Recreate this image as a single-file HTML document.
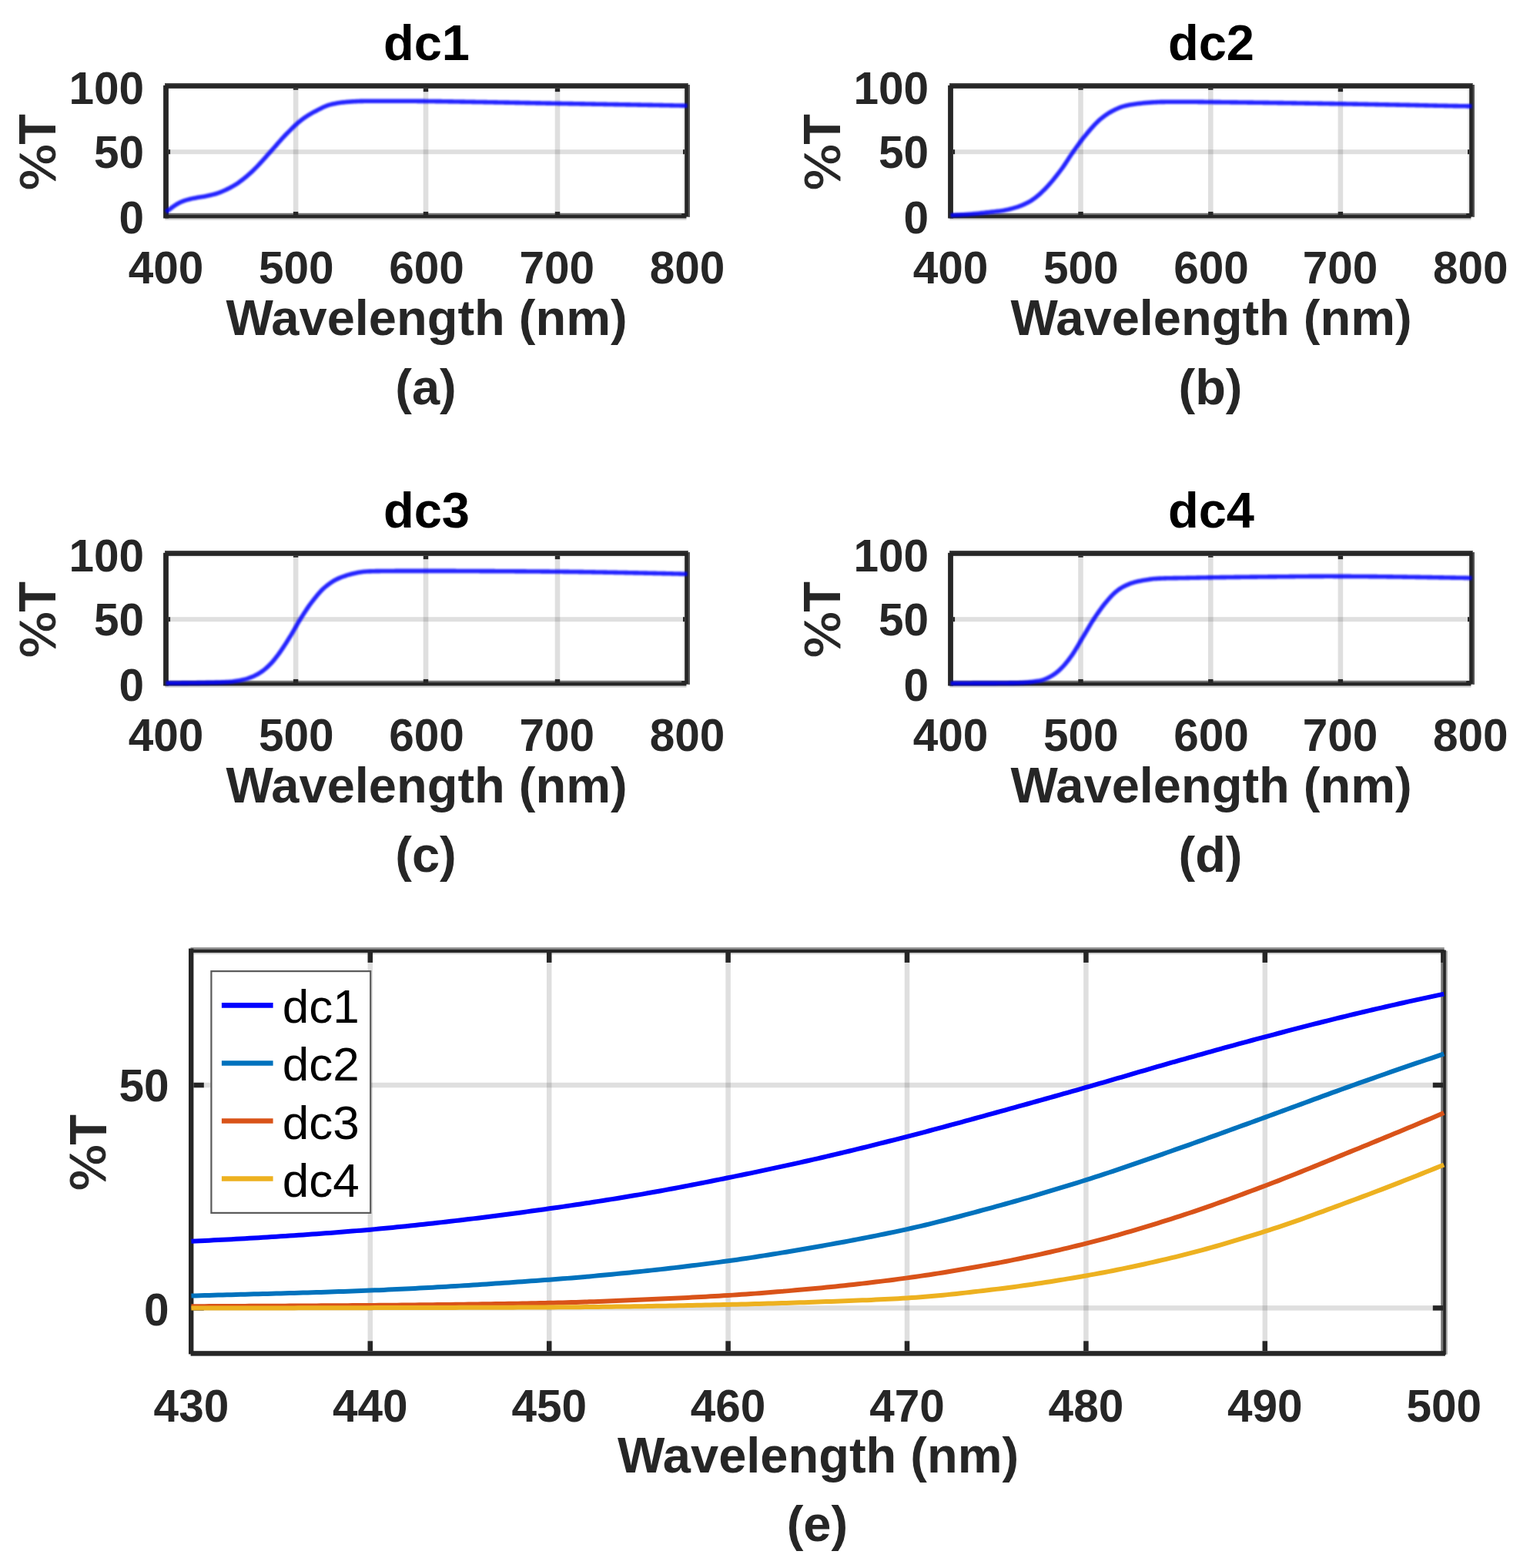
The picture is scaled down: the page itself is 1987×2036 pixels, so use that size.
<!DOCTYPE html>
<html lang="en">
<head>
<meta charset="utf-8">
<title>Transmission spectra</title>
<style>
html,body{margin:0;padding:0;background:#fff;}
body{width:1987px;height:2036px;overflow:hidden;}
svg{display:block;font-family:"Liberation Sans",sans-serif;}
</style>
</head>
<body>
<svg xmlns="http://www.w3.org/2000/svg" width="1987" height="2036" viewBox="0 0 1987 2036">
<defs><filter id="soft" filterUnits="userSpaceOnUse" x="0" y="0" width="1987" height="2036"><feGaussianBlur stdDeviation="0.9"/></filter></defs>
<rect width="1987" height="2036" fill="#fff"/>
<g shape-rendering="auto">
<rect x="380.80" y="114.85" width="6.60" height="162.05" fill="#dfdfdf" />
<rect x="549.70" y="114.85" width="6.60" height="162.05" fill="#dfdfdf" />
<rect x="720.70" y="114.85" width="6.60" height="162.05" fill="#dfdfdf" />
<rect x="218.90" y="194.20" width="670.30" height="6.00" fill="#dfdfdf" style="mix-blend-mode:multiply"/>
<rect x="887.20" y="114.85" width="2.00" height="162.05" fill="#e9e9e9" />
<rect x="218.90" y="114.85" width="670.30" height="2.10" fill="#f5f5f5" />
<rect x="214.30" y="283.50" width="677.15" height="2.30" fill="#d6d6d6" />
<rect x="212.10" y="110.80" width="6.80" height="172.70" fill="#262626" />
<rect x="214.20" y="108.00" width="679.35" height="6.85" fill="#262626" />
<rect x="214.20" y="108.00" width="679.35" height="1.40" fill="#474747" />
<rect x="889.20" y="110.10" width="6.65" height="171.50" fill="#262626" />
<rect x="893.85" y="110.10" width="2.00" height="171.50" fill="#575757" />
<rect x="214.30" y="276.90" width="677.15" height="6.60" fill="#262626" />
<rect x="218.90" y="276.90" width="666.30" height="2.20" fill="#707070" />
<rect x="380.90" y="114.85" width="6.40" height="1.90" fill="#262626" />
<rect x="380.90" y="274.90" width="6.40" height="4.20" fill="#262626" />
<rect x="549.80" y="114.85" width="6.40" height="4.30" fill="#262626" />
<rect x="549.80" y="274.90" width="6.40" height="4.20" fill="#262626" />
<rect x="720.80" y="114.85" width="6.40" height="4.30" fill="#262626" />
<rect x="720.80" y="274.90" width="6.40" height="4.20" fill="#262626" />
<rect x="218.90" y="194.20" width="2.20" height="6.00" fill="#262626" />
<rect x="887.00" y="194.20" width="2.20" height="6.00" fill="#262626" />
<defs><path id="c_dc1" d="M215.50 275.31 L217.19 273.99 L218.88 272.70 L220.58 271.43 L222.27 270.16 L223.96 268.90 L225.66 267.71 L227.35 266.58 L229.04 265.50 L230.73 264.51 L232.43 263.59 L234.12 262.74 L235.81 261.97 L237.50 261.30 L239.19 260.68 L240.89 260.12 L242.58 259.60 L244.27 259.12 L245.97 258.67 L247.66 258.26 L249.35 257.88 L251.04 257.53 L252.74 257.20 L254.43 256.88 L256.12 256.57 L257.81 256.28 L259.50 256.01 L261.20 255.74 L262.89 255.47 L264.58 255.19 L266.27 254.89 L267.97 254.56 L269.66 254.20 L271.35 253.83 L273.05 253.44 L274.74 253.03 L276.43 252.61 L278.12 252.17 L279.81 251.71 L281.51 251.21 L283.20 250.67 L284.89 250.07 L286.58 249.43 L288.28 248.73 L289.97 248.00 L291.66 247.23 L293.36 246.45 L295.05 245.64 L296.74 244.84 L298.43 243.98 L300.12 243.07 L301.82 242.13 L303.51 241.17 L305.20 240.16 L306.89 239.11 L308.59 238.01 L310.28 236.84 L311.97 235.59 L313.66 234.29 L315.36 232.95 L317.05 231.60 L318.74 230.23 L320.44 228.83 L322.13 227.40 L323.82 225.93 L325.51 224.43 L327.20 222.88 L328.90 221.28 L330.59 219.62 L332.28 217.90 L333.98 216.14 L335.67 214.35 L337.36 212.52 L339.05 210.67 L340.75 208.80 L342.44 206.91 L344.13 205.02 L345.82 203.12 L347.51 201.22 L349.21 199.33 L350.90 197.45 L352.59 195.58 L354.28 193.67 L355.98 191.74 L357.67 189.80 L359.36 187.85 L361.06 185.91 L362.75 183.97 L364.44 182.06 L366.13 180.18 L367.83 178.34 L369.52 176.54 L371.21 174.79 L372.90 173.07 L374.60 171.35 L376.29 169.64 L377.98 167.95 L379.67 166.28 L381.37 164.64 L383.06 163.03 L384.75 161.46 L386.44 159.94 L388.13 158.48 L389.83 157.08 L391.52 155.74 L393.21 154.48 L394.90 153.27 L396.60 152.10 L398.29 150.97 L399.98 149.88 L401.68 148.84 L403.37 147.83 L405.06 146.86 L406.75 145.92 L408.44 145.02 L410.14 144.14 L411.83 143.25 L413.52 142.36 L415.22 141.48 L416.91 140.63 L418.60 139.80 L420.29 139.01 L421.99 138.26 L423.68 137.57 L425.37 136.93 L427.06 136.36 L428.75 135.87 L430.45 135.47 L432.14 135.10 L433.83 134.75 L435.52 134.42 L437.22 134.11 L438.91 133.82 L440.60 133.56 L442.30 133.31 L443.99 133.09 L445.68 132.88 L447.37 132.70 L449.06 132.54 L450.76 132.40 L452.45 132.26 L454.14 132.13 L455.83 132.01 L457.53 131.89 L459.22 131.78 L460.91 131.68 L462.61 131.59 L464.30 131.51 L465.99 131.45 L467.68 131.40 L469.38 131.36 L471.07 131.33 L472.76 131.31 L474.45 131.28 L476.14 131.26 L477.84 131.24 L479.53 131.23 L481.22 131.21 L482.92 131.20 L484.61 131.20 L486.30 131.19 L487.99 131.19 L489.69 131.19 L491.38 131.19 L493.07 131.19 L494.76 131.19 L496.45 131.19 L498.15 131.19 L499.84 131.19 L501.53 131.19 L503.22 131.19 L504.92 131.19 L506.61 131.19 L508.30 131.19 L510.00 131.19 L511.69 131.19 L513.38 131.19 L515.07 131.19 L516.76 131.19 L518.46 131.19 L520.15 131.19 L521.84 131.19 L523.54 131.20 L525.23 131.20 L526.92 131.21 L528.61 131.22 L530.31 131.23 L532.00 131.24 L533.69 131.25 L535.38 131.26 L537.08 131.28 L538.77 131.29 L540.46 131.31 L542.15 131.33 L543.85 131.34 L545.54 131.36 L547.23 131.38 L548.92 131.40 L550.62 131.41 L552.31 131.43 L554.00 131.45 L555.69 131.46 L557.38 131.48 L559.08 131.50 L560.77 131.52 L562.46 131.54 L564.15 131.56 L565.85 131.58 L567.54 131.60 L569.23 131.63 L570.92 131.65 L572.62 131.67 L574.31 131.70 L576.00 131.72 L577.69 131.75 L579.39 131.78 L581.08 131.80 L582.77 131.83 L584.47 131.86 L586.16 131.88 L587.85 131.91 L589.54 131.94 L591.24 131.97 L592.93 132.00 L594.62 132.03 L596.31 132.05 L598.00 132.08 L599.70 132.11 L601.39 132.14 L603.08 132.17 L604.77 132.20 L606.47 132.23 L608.16 132.26 L609.85 132.29 L611.54 132.32 L613.24 132.35 L614.93 132.37 L616.62 132.40 L618.32 132.43 L620.01 132.46 L621.70 132.49 L623.39 132.52 L625.09 132.54 L626.78 132.57 L628.47 132.60 L630.16 132.63 L631.86 132.66 L633.55 132.69 L635.24 132.72 L636.93 132.75 L638.62 132.78 L640.32 132.81 L642.01 132.84 L643.70 132.87 L645.39 132.90 L647.09 132.93 L648.78 132.96 L650.47 132.99 L652.16 133.02 L653.86 133.05 L655.55 133.08 L657.24 133.11 L658.93 133.14 L660.63 133.17 L662.32 133.20 L664.01 133.23 L665.71 133.27 L667.40 133.30 L669.09 133.33 L670.78 133.36 L672.48 133.39 L674.17 133.42 L675.86 133.45 L677.55 133.48 L679.25 133.52 L680.94 133.55 L682.63 133.58 L684.32 133.61 L686.01 133.64 L687.71 133.67 L689.40 133.70 L691.09 133.74 L692.78 133.77 L694.48 133.80 L696.17 133.83 L697.86 133.86 L699.56 133.89 L701.25 133.92 L702.94 133.95 L704.63 133.98 L706.33 134.01 L708.02 134.04 L709.71 134.08 L711.40 134.11 L713.10 134.14 L714.79 134.17 L716.48 134.20 L718.17 134.23 L719.87 134.26 L721.56 134.29 L723.25 134.32 L724.94 134.35 L726.63 134.37 L728.33 134.40 L730.02 134.43 L731.71 134.46 L733.40 134.49 L735.10 134.52 L736.79 134.55 L738.48 134.58 L740.18 134.61 L741.87 134.64 L743.56 134.66 L745.25 134.69 L746.95 134.72 L748.64 134.75 L750.33 134.78 L752.02 134.81 L753.72 134.84 L755.41 134.86 L757.10 134.89 L758.79 134.92 L760.49 134.95 L762.18 134.98 L763.87 135.01 L765.56 135.03 L767.25 135.06 L768.95 135.09 L770.64 135.12 L772.33 135.15 L774.02 135.18 L775.72 135.20 L777.41 135.23 L779.10 135.26 L780.79 135.29 L782.49 135.32 L784.18 135.35 L785.87 135.38 L787.56 135.40 L789.26 135.43 L790.95 135.46 L792.64 135.49 L794.34 135.52 L796.03 135.55 L797.72 135.58 L799.41 135.60 L801.11 135.63 L802.80 135.66 L804.49 135.69 L806.18 135.72 L807.88 135.75 L809.57 135.78 L811.26 135.81 L812.95 135.84 L814.64 135.87 L816.34 135.90 L818.03 135.92 L819.72 135.95 L821.41 135.98 L823.11 136.01 L824.80 136.04 L826.49 136.07 L828.19 136.10 L829.88 136.13 L831.57 136.16 L833.26 136.19 L834.96 136.22 L836.65 136.25 L838.34 136.27 L840.03 136.30 L841.73 136.33 L843.42 136.36 L845.11 136.39 L846.80 136.42 L848.50 136.45 L850.19 136.48 L851.88 136.51 L853.57 136.54 L855.26 136.57 L856.96 136.60 L858.65 136.63 L860.34 136.66 L862.03 136.69 L863.73 136.72 L865.42 136.75 L867.11 136.78 L868.80 136.82 L870.50 136.85 L872.19 136.88 L873.88 136.91 L875.57 136.94 L877.27 136.97 L878.96 137.01 L880.65 137.04 L882.35 137.07 L884.04 137.10 L885.73 137.14 L887.42 137.17 L889.12 137.20 L890.81 137.24 L892.50 137.27"/></defs>
<use href="#c_dc1" fill="none" stroke="#0000ff" stroke-opacity="0.86" stroke-linejoin="round" stroke-linecap="butt" stroke-width="5.6" filter="url(#soft)"/>
</g>
<text x="554.00" y="78.00" font-size="65" font-weight="bold" text-anchor="middle" fill="#000" >dc1</text>
<text x="187.00" y="134.60" font-size="58.5" font-weight="bold" text-anchor="end" fill="#262626" >100</text>
<text x="187.00" y="218.20" font-size="58.5" font-weight="bold" text-anchor="end" fill="#262626" >50</text>
<text x="187.00" y="303.10" font-size="58.5" font-weight="bold" text-anchor="end" fill="#262626" >0</text>
<text x="215.50" y="368.30" font-size="58.5" font-weight="bold" text-anchor="middle" fill="#262626" >400</text>
<text x="384.75" y="368.30" font-size="58.5" font-weight="bold" text-anchor="middle" fill="#262626" >500</text>
<text x="554.00" y="368.30" font-size="58.5" font-weight="bold" text-anchor="middle" fill="#262626" >600</text>
<text x="723.25" y="368.30" font-size="58.5" font-weight="bold" text-anchor="middle" fill="#262626" >700</text>
<text x="892.50" y="368.30" font-size="58.5" font-weight="bold" text-anchor="middle" fill="#262626" >800</text>
<text x="554.00" y="435.00" font-size="65" font-weight="bold" text-anchor="middle" fill="#262626" >Wavelength (nm)</text>
<text x="553.00" y="524.50" font-size="65" font-weight="bold" text-anchor="middle" fill="#262626" >(a)</text>
<g transform="translate(72.30 197.00) rotate(-90)" fill="#262626"><text x="0" y="0" font-family="'DejaVu Sans', 'Liberation Sans', sans-serif" font-size="60" font-weight="normal" text-anchor="start" stroke="#262626" stroke-width="0.9" stroke-linejoin="round" transform="translate(-51.6 -1.4) scale(1.1 1)">%</text><text x="0" y="0" font-size="65" font-weight="bold" text-anchor="start" transform="translate(9.2 0) scale(1 1.065)">T</text></g>
<g shape-rendering="auto">
<rect x="1400.20" y="114.85" width="6.60" height="162.05" fill="#dfdfdf" />
<rect x="1569.00" y="114.85" width="6.60" height="162.05" fill="#dfdfdf" />
<rect x="1737.60" y="114.85" width="6.60" height="162.05" fill="#dfdfdf" />
<rect x="1237.90" y="194.20" width="670.30" height="6.00" fill="#dfdfdf" style="mix-blend-mode:multiply"/>
<rect x="1906.20" y="114.85" width="2.00" height="162.05" fill="#e9e9e9" />
<rect x="1237.90" y="114.85" width="670.30" height="2.10" fill="#f5f5f5" />
<rect x="1233.30" y="283.50" width="677.15" height="2.30" fill="#d6d6d6" />
<rect x="1231.10" y="110.80" width="6.80" height="172.70" fill="#262626" />
<rect x="1233.20" y="108.00" width="679.35" height="6.85" fill="#262626" />
<rect x="1233.20" y="108.00" width="679.35" height="1.40" fill="#474747" />
<rect x="1908.20" y="110.10" width="6.65" height="171.50" fill="#262626" />
<rect x="1912.85" y="110.10" width="2.00" height="171.50" fill="#575757" />
<rect x="1233.30" y="276.90" width="677.15" height="6.60" fill="#262626" />
<rect x="1237.90" y="276.90" width="666.30" height="2.20" fill="#707070" />
<rect x="1400.30" y="114.85" width="6.40" height="1.90" fill="#262626" />
<rect x="1400.30" y="274.90" width="6.40" height="4.20" fill="#262626" />
<rect x="1569.10" y="114.85" width="6.40" height="1.90" fill="#262626" />
<rect x="1569.10" y="274.90" width="6.40" height="4.20" fill="#262626" />
<rect x="1737.70" y="114.85" width="6.40" height="4.30" fill="#262626" />
<rect x="1737.70" y="274.90" width="6.40" height="4.20" fill="#262626" />
<rect x="1237.90" y="194.20" width="2.20" height="6.00" fill="#262626" />
<rect x="1906.00" y="194.20" width="2.20" height="6.00" fill="#262626" />
<defs><path id="c_dc2" d="M1234.50 279.52 L1236.19 279.46 L1237.88 279.39 L1239.58 279.32 L1241.27 279.24 L1242.96 279.16 L1244.65 279.07 L1246.35 278.98 L1248.04 278.88 L1249.73 278.78 L1251.42 278.68 L1253.12 278.57 L1254.81 278.46 L1256.50 278.34 L1258.19 278.21 L1259.89 278.07 L1261.58 277.93 L1263.27 277.79 L1264.96 277.64 L1266.66 277.49 L1268.35 277.33 L1270.04 277.17 L1271.73 277.00 L1273.43 276.82 L1275.12 276.64 L1276.81 276.45 L1278.51 276.26 L1280.20 276.06 L1281.89 275.87 L1283.58 275.67 L1285.28 275.47 L1286.97 275.29 L1288.66 275.10 L1290.35 274.92 L1292.05 274.74 L1293.74 274.56 L1295.43 274.37 L1297.12 274.16 L1298.82 273.94 L1300.51 273.71 L1302.20 273.45 L1303.89 273.16 L1305.59 272.84 L1307.28 272.49 L1308.97 272.11 L1310.66 271.71 L1312.36 271.28 L1314.05 270.84 L1315.74 270.37 L1317.43 269.89 L1319.12 269.40 L1320.82 268.88 L1322.51 268.31 L1324.20 267.69 L1325.89 267.04 L1327.59 266.36 L1329.28 265.65 L1330.97 264.89 L1332.66 264.08 L1334.36 263.22 L1336.05 262.31 L1337.74 261.34 L1339.43 260.29 L1341.13 259.17 L1342.82 257.99 L1344.51 256.74 L1346.20 255.43 L1347.90 254.04 L1349.59 252.58 L1351.28 251.05 L1352.97 249.47 L1354.67 247.83 L1356.36 246.15 L1358.05 244.43 L1359.74 242.65 L1361.44 240.81 L1363.13 238.92 L1364.82 236.97 L1366.52 234.98 L1368.21 232.94 L1369.90 230.85 L1371.59 228.73 L1373.29 226.58 L1374.98 224.38 L1376.67 222.16 L1378.36 219.92 L1380.06 217.59 L1381.75 215.15 L1383.44 212.63 L1385.13 210.05 L1386.83 207.45 L1388.52 204.84 L1390.21 202.26 L1391.90 199.74 L1393.60 197.29 L1395.29 194.91 L1396.98 192.54 L1398.67 190.17 L1400.37 187.83 L1402.06 185.52 L1403.75 183.25 L1405.44 181.02 L1407.13 178.84 L1408.83 176.73 L1410.52 174.68 L1412.21 172.65 L1413.90 170.64 L1415.60 168.65 L1417.29 166.70 L1418.98 164.78 L1420.67 162.92 L1422.37 161.11 L1424.06 159.38 L1425.75 157.73 L1427.44 156.18 L1429.14 154.72 L1430.83 153.33 L1432.52 152.00 L1434.21 150.72 L1435.91 149.50 L1437.60 148.33 L1439.29 147.23 L1440.98 146.20 L1442.68 145.23 L1444.37 144.31 L1446.06 143.42 L1447.76 142.56 L1449.45 141.72 L1451.14 140.94 L1452.83 140.19 L1454.53 139.51 L1456.22 138.89 L1457.91 138.34 L1459.60 137.86 L1461.30 137.44 L1462.99 137.04 L1464.68 136.67 L1466.37 136.34 L1468.07 136.02 L1469.76 135.74 L1471.45 135.47 L1473.14 135.22 L1474.84 134.98 L1476.53 134.76 L1478.22 134.55 L1479.91 134.35 L1481.61 134.16 L1483.30 133.98 L1484.99 133.81 L1486.68 133.66 L1488.38 133.52 L1490.07 133.40 L1491.76 133.27 L1493.45 133.14 L1495.14 133.02 L1496.84 132.90 L1498.53 132.79 L1500.22 132.68 L1501.91 132.59 L1503.61 132.51 L1505.30 132.45 L1506.99 132.40 L1508.68 132.38 L1510.38 132.36 L1512.07 132.34 L1513.76 132.32 L1515.45 132.31 L1517.15 132.30 L1518.84 132.28 L1520.53 132.27 L1522.22 132.26 L1523.92 132.25 L1525.61 132.24 L1527.30 132.23 L1528.99 132.23 L1530.69 132.22 L1532.38 132.22 L1534.07 132.21 L1535.76 132.21 L1537.46 132.21 L1539.15 132.21 L1540.84 132.21 L1542.54 132.21 L1544.23 132.22 L1545.92 132.23 L1547.61 132.24 L1549.31 132.26 L1551.00 132.27 L1552.69 132.29 L1554.38 132.31 L1556.08 132.33 L1557.77 132.35 L1559.46 132.37 L1561.15 132.39 L1562.85 132.42 L1564.54 132.44 L1566.23 132.46 L1567.92 132.48 L1569.62 132.50 L1571.31 132.52 L1573.00 132.54 L1574.69 132.56 L1576.38 132.58 L1578.08 132.60 L1579.77 132.62 L1581.46 132.64 L1583.15 132.65 L1584.85 132.67 L1586.54 132.69 L1588.23 132.71 L1589.92 132.73 L1591.62 132.75 L1593.31 132.77 L1595.00 132.79 L1596.69 132.81 L1598.39 132.83 L1600.08 132.84 L1601.77 132.86 L1603.47 132.88 L1605.16 132.90 L1606.85 132.92 L1608.54 132.94 L1610.24 132.96 L1611.93 132.98 L1613.62 133.00 L1615.31 133.02 L1617.00 133.04 L1618.70 133.06 L1620.39 133.08 L1622.08 133.10 L1623.78 133.13 L1625.47 133.15 L1627.16 133.17 L1628.85 133.19 L1630.55 133.21 L1632.24 133.23 L1633.93 133.25 L1635.62 133.27 L1637.32 133.29 L1639.01 133.31 L1640.70 133.34 L1642.39 133.36 L1644.09 133.38 L1645.78 133.40 L1647.47 133.42 L1649.16 133.44 L1650.86 133.47 L1652.55 133.49 L1654.24 133.51 L1655.93 133.53 L1657.62 133.56 L1659.32 133.58 L1661.01 133.60 L1662.70 133.62 L1664.39 133.65 L1666.09 133.67 L1667.78 133.69 L1669.47 133.72 L1671.16 133.74 L1672.86 133.76 L1674.55 133.79 L1676.24 133.81 L1677.93 133.84 L1679.63 133.86 L1681.32 133.88 L1683.01 133.91 L1684.70 133.93 L1686.40 133.96 L1688.09 133.98 L1689.78 134.01 L1691.47 134.03 L1693.17 134.06 L1694.86 134.08 L1696.55 134.11 L1698.25 134.13 L1699.94 134.16 L1701.63 134.18 L1703.32 134.21 L1705.01 134.23 L1706.71 134.26 L1708.40 134.29 L1710.09 134.31 L1711.78 134.34 L1713.48 134.36 L1715.17 134.39 L1716.86 134.42 L1718.56 134.44 L1720.25 134.47 L1721.94 134.50 L1723.63 134.52 L1725.33 134.55 L1727.02 134.58 L1728.71 134.60 L1730.40 134.63 L1732.10 134.66 L1733.79 134.68 L1735.48 134.71 L1737.17 134.74 L1738.87 134.77 L1740.56 134.79 L1742.25 134.82 L1743.94 134.85 L1745.63 134.88 L1747.33 134.91 L1749.02 134.93 L1750.71 134.96 L1752.40 134.99 L1754.10 135.02 L1755.79 135.05 L1757.48 135.08 L1759.18 135.10 L1760.87 135.13 L1762.56 135.16 L1764.25 135.19 L1765.95 135.22 L1767.64 135.25 L1769.33 135.28 L1771.02 135.31 L1772.72 135.34 L1774.41 135.37 L1776.10 135.40 L1777.79 135.43 L1779.49 135.46 L1781.18 135.49 L1782.87 135.52 L1784.56 135.55 L1786.26 135.58 L1787.95 135.61 L1789.64 135.64 L1791.33 135.68 L1793.03 135.71 L1794.72 135.74 L1796.41 135.77 L1798.10 135.80 L1799.80 135.83 L1801.49 135.86 L1803.18 135.89 L1804.87 135.93 L1806.57 135.96 L1808.26 135.99 L1809.95 136.02 L1811.64 136.05 L1813.34 136.08 L1815.03 136.12 L1816.72 136.15 L1818.41 136.18 L1820.11 136.21 L1821.80 136.24 L1823.49 136.28 L1825.18 136.31 L1826.88 136.34 L1828.57 136.37 L1830.26 136.41 L1831.95 136.44 L1833.64 136.47 L1835.34 136.51 L1837.03 136.54 L1838.72 136.58 L1840.41 136.61 L1842.11 136.65 L1843.80 136.68 L1845.49 136.72 L1847.18 136.75 L1848.88 136.79 L1850.57 136.83 L1852.26 136.86 L1853.95 136.90 L1855.65 136.93 L1857.34 136.97 L1859.03 137.01 L1860.72 137.04 L1862.42 137.08 L1864.11 137.11 L1865.80 137.15 L1867.49 137.18 L1869.19 137.22 L1870.88 137.25 L1872.57 137.29 L1874.26 137.32 L1875.96 137.36 L1877.65 137.39 L1879.34 137.42 L1881.03 137.45 L1882.73 137.49 L1884.42 137.52 L1886.11 137.55 L1887.80 137.58 L1889.50 137.61 L1891.19 137.63 L1892.88 137.66 L1894.57 137.69 L1896.27 137.72 L1897.96 137.74 L1899.65 137.77 L1901.35 137.80 L1903.04 137.82 L1904.73 137.85 L1906.42 137.87 L1908.12 137.90 L1909.81 137.92 L1911.50 137.94"/></defs>
<use href="#c_dc2" fill="none" stroke="#0000ff" stroke-opacity="0.86" stroke-linejoin="round" stroke-linecap="butt" stroke-width="5.6" filter="url(#soft)"/>
</g>
<text x="1573.00" y="78.00" font-size="65" font-weight="bold" text-anchor="middle" fill="#000" >dc2</text>
<text x="1206.00" y="134.60" font-size="58.5" font-weight="bold" text-anchor="end" fill="#262626" >100</text>
<text x="1206.00" y="218.20" font-size="58.5" font-weight="bold" text-anchor="end" fill="#262626" >50</text>
<text x="1206.00" y="303.10" font-size="58.5" font-weight="bold" text-anchor="end" fill="#262626" >0</text>
<text x="1234.50" y="368.30" font-size="58.5" font-weight="bold" text-anchor="middle" fill="#262626" >400</text>
<text x="1403.75" y="368.30" font-size="58.5" font-weight="bold" text-anchor="middle" fill="#262626" >500</text>
<text x="1573.00" y="368.30" font-size="58.5" font-weight="bold" text-anchor="middle" fill="#262626" >600</text>
<text x="1740.45" y="368.30" font-size="58.5" font-weight="bold" text-anchor="middle" fill="#262626" >700</text>
<text x="1909.70" y="368.30" font-size="58.5" font-weight="bold" text-anchor="middle" fill="#262626" >800</text>
<text x="1573.00" y="435.00" font-size="65" font-weight="bold" text-anchor="middle" fill="#262626" >Wavelength (nm)</text>
<text x="1572.00" y="524.50" font-size="65" font-weight="bold" text-anchor="middle" fill="#262626" >(b)</text>
<g transform="translate(1091.30 197.00) rotate(-90)" fill="#262626"><text x="0" y="0" font-family="'DejaVu Sans', 'Liberation Sans', sans-serif" font-size="60" font-weight="normal" text-anchor="start" stroke="#262626" stroke-width="0.9" stroke-linejoin="round" transform="translate(-51.6 -1.4) scale(1.1 1)">%</text><text x="0" y="0" font-size="65" font-weight="bold" text-anchor="start" transform="translate(9.2 0) scale(1 1.065)">T</text></g>
<g shape-rendering="auto">
<rect x="380.80" y="721.85" width="6.60" height="162.05" fill="#dfdfdf" />
<rect x="549.70" y="721.85" width="6.60" height="162.05" fill="#dfdfdf" />
<rect x="720.70" y="721.85" width="6.60" height="162.05" fill="#dfdfdf" />
<rect x="218.90" y="801.20" width="670.30" height="6.00" fill="#dfdfdf" style="mix-blend-mode:multiply"/>
<rect x="887.20" y="721.85" width="2.00" height="162.05" fill="#e9e9e9" />
<rect x="218.90" y="721.85" width="670.30" height="2.10" fill="#f5f5f5" />
<rect x="214.30" y="890.50" width="677.15" height="2.30" fill="#d6d6d6" />
<rect x="212.10" y="717.80" width="6.80" height="172.70" fill="#262626" />
<rect x="214.20" y="715.00" width="679.35" height="6.85" fill="#262626" />
<rect x="214.20" y="715.00" width="679.35" height="1.40" fill="#474747" />
<rect x="889.20" y="717.10" width="6.65" height="171.50" fill="#262626" />
<rect x="893.85" y="717.10" width="2.00" height="171.50" fill="#575757" />
<rect x="214.30" y="883.90" width="677.15" height="6.60" fill="#262626" />
<rect x="218.90" y="883.90" width="666.30" height="2.20" fill="#707070" />
<rect x="380.90" y="721.85" width="6.40" height="1.90" fill="#262626" />
<rect x="380.90" y="881.90" width="6.40" height="4.20" fill="#262626" />
<rect x="549.80" y="721.85" width="6.40" height="4.30" fill="#262626" />
<rect x="549.80" y="881.90" width="6.40" height="4.20" fill="#262626" />
<rect x="720.80" y="721.85" width="6.40" height="4.30" fill="#262626" />
<rect x="720.80" y="881.90" width="6.40" height="4.20" fill="#262626" />
<rect x="218.90" y="801.20" width="2.20" height="6.00" fill="#262626" />
<rect x="887.00" y="801.20" width="2.20" height="6.00" fill="#262626" />
<defs><path id="c_dc3" d="M215.50 887.03 L217.19 887.03 L218.88 887.03 L220.58 887.02 L222.27 887.02 L223.96 887.01 L225.66 887.00 L227.35 886.99 L229.04 886.98 L230.73 886.97 L232.43 886.95 L234.12 886.94 L235.81 886.92 L237.50 886.91 L239.19 886.89 L240.89 886.87 L242.58 886.85 L244.27 886.84 L245.97 886.82 L247.66 886.80 L249.35 886.78 L251.04 886.76 L252.74 886.73 L254.43 886.70 L256.12 886.67 L257.81 886.63 L259.50 886.59 L261.20 886.55 L262.89 886.51 L264.58 886.48 L266.27 886.44 L267.97 886.41 L269.66 886.37 L271.35 886.34 L273.05 886.31 L274.74 886.28 L276.43 886.24 L278.12 886.20 L279.81 886.16 L281.51 886.12 L283.20 886.07 L284.89 886.01 L286.58 885.95 L288.28 885.89 L289.97 885.81 L291.66 885.73 L293.36 885.64 L295.05 885.54 L296.74 885.43 L298.43 885.31 L300.12 885.18 L301.82 885.01 L303.51 884.79 L305.20 884.54 L306.89 884.27 L308.59 883.99 L310.28 883.71 L311.97 883.40 L313.66 883.07 L315.36 882.70 L317.05 882.31 L318.74 881.86 L320.44 881.36 L322.13 880.82 L323.82 880.23 L325.51 879.61 L327.20 878.94 L328.90 878.22 L330.59 877.44 L332.28 876.61 L333.98 875.73 L335.67 874.77 L337.36 873.72 L339.05 872.60 L340.75 871.41 L342.44 870.16 L344.13 868.82 L345.82 867.39 L347.51 865.86 L349.21 864.25 L350.90 862.56 L352.59 860.77 L354.28 858.86 L355.98 856.84 L357.67 854.74 L359.36 852.57 L361.06 850.34 L362.75 848.01 L364.44 845.61 L366.13 843.14 L367.83 840.61 L369.52 838.02 L371.21 835.40 L372.90 832.74 L374.60 830.06 L376.29 827.36 L377.98 824.61 L379.67 821.74 L381.37 818.81 L383.06 815.84 L384.75 812.86 L386.44 809.92 L388.13 807.04 L389.83 804.28 L391.52 801.59 L393.21 798.92 L394.90 796.28 L396.60 793.68 L398.29 791.13 L399.98 788.64 L401.68 786.23 L403.37 783.90 L405.06 781.67 L406.75 779.48 L408.44 777.31 L410.14 775.18 L411.83 773.10 L413.52 771.08 L415.22 769.15 L416.91 767.31 L418.60 765.58 L420.29 763.97 L421.99 762.50 L423.68 761.10 L425.37 759.75 L427.06 758.47 L428.75 757.24 L430.45 756.08 L432.14 754.99 L433.83 753.97 L435.52 753.03 L437.22 752.16 L438.91 751.37 L440.60 750.62 L442.30 749.92 L443.99 749.26 L445.68 748.63 L447.37 748.05 L449.06 747.49 L450.76 746.95 L452.45 746.44 L454.14 745.96 L455.83 745.50 L457.53 745.07 L459.22 744.67 L460.91 744.29 L462.61 743.93 L464.30 743.56 L465.99 743.21 L467.68 742.91 L469.38 742.66 L471.07 742.48 L472.76 742.32 L474.45 742.19 L476.14 742.07 L477.84 741.98 L479.53 741.91 L481.22 741.85 L482.92 741.80 L484.61 741.75 L486.30 741.71 L487.99 741.67 L489.69 741.64 L491.38 741.61 L493.07 741.59 L494.76 741.57 L496.45 741.55 L498.15 741.53 L499.84 741.52 L501.53 741.50 L503.22 741.49 L504.92 741.48 L506.61 741.46 L508.30 741.45 L510.00 741.44 L511.69 741.43 L513.38 741.42 L515.07 741.42 L516.76 741.41 L518.46 741.40 L520.15 741.40 L521.84 741.40 L523.54 741.39 L525.23 741.39 L526.92 741.39 L528.61 741.38 L530.31 741.38 L532.00 741.38 L533.69 741.37 L535.38 741.37 L537.08 741.37 L538.77 741.37 L540.46 741.36 L542.15 741.36 L543.85 741.36 L545.54 741.36 L547.23 741.36 L548.92 741.35 L550.62 741.35 L552.31 741.35 L554.00 741.35 L555.69 741.35 L557.38 741.35 L559.08 741.35 L560.77 741.35 L562.46 741.35 L564.15 741.35 L565.85 741.35 L567.54 741.35 L569.23 741.35 L570.92 741.36 L572.62 741.36 L574.31 741.36 L576.00 741.37 L577.69 741.37 L579.39 741.38 L581.08 741.38 L582.77 741.39 L584.47 741.39 L586.16 741.40 L587.85 741.41 L589.54 741.41 L591.24 741.42 L592.93 741.43 L594.62 741.44 L596.31 741.44 L598.00 741.45 L599.70 741.46 L601.39 741.47 L603.08 741.48 L604.77 741.49 L606.47 741.49 L608.16 741.50 L609.85 741.51 L611.54 741.52 L613.24 741.53 L614.93 741.54 L616.62 741.54 L618.32 741.55 L620.01 741.56 L621.70 741.57 L623.39 741.58 L625.09 741.58 L626.78 741.59 L628.47 741.60 L630.16 741.61 L631.86 741.62 L633.55 741.63 L635.24 741.64 L636.93 741.64 L638.62 741.65 L640.32 741.66 L642.01 741.67 L643.70 741.68 L645.39 741.69 L647.09 741.70 L648.78 741.71 L650.47 741.72 L652.16 741.73 L653.86 741.74 L655.55 741.75 L657.24 741.76 L658.93 741.77 L660.63 741.78 L662.32 741.79 L664.01 741.80 L665.71 741.81 L667.40 741.82 L669.09 741.83 L670.78 741.84 L672.48 741.85 L674.17 741.87 L675.86 741.88 L677.55 741.89 L679.25 741.90 L680.94 741.91 L682.63 741.92 L684.32 741.94 L686.01 741.95 L687.71 741.96 L689.40 741.97 L691.09 741.99 L692.78 742.00 L694.48 742.01 L696.17 742.03 L697.86 742.04 L699.56 742.05 L701.25 742.07 L702.94 742.08 L704.63 742.09 L706.33 742.11 L708.02 742.12 L709.71 742.14 L711.40 742.15 L713.10 742.17 L714.79 742.18 L716.48 742.20 L718.17 742.21 L719.87 742.23 L721.56 742.24 L723.25 742.26 L724.94 742.28 L726.63 742.29 L728.33 742.31 L730.02 742.32 L731.71 742.34 L733.40 742.36 L735.10 742.38 L736.79 742.39 L738.48 742.41 L740.18 742.43 L741.87 742.45 L743.56 742.47 L745.25 742.50 L746.95 742.52 L748.64 742.54 L750.33 742.56 L752.02 742.59 L753.72 742.61 L755.41 742.63 L757.10 742.66 L758.79 742.68 L760.49 742.71 L762.18 742.74 L763.87 742.76 L765.56 742.79 L767.25 742.82 L768.95 742.84 L770.64 742.87 L772.33 742.90 L774.02 742.93 L775.72 742.96 L777.41 742.99 L779.10 743.02 L780.79 743.04 L782.49 743.07 L784.18 743.10 L785.87 743.14 L787.56 743.17 L789.26 743.20 L790.95 743.23 L792.64 743.26 L794.34 743.29 L796.03 743.32 L797.72 743.35 L799.41 743.38 L801.11 743.41 L802.80 743.45 L804.49 743.48 L806.18 743.51 L807.88 743.54 L809.57 743.57 L811.26 743.60 L812.95 743.64 L814.64 743.67 L816.34 743.70 L818.03 743.73 L819.72 743.76 L821.41 743.79 L823.11 743.83 L824.80 743.86 L826.49 743.89 L828.19 743.92 L829.88 743.96 L831.57 743.99 L833.26 744.02 L834.96 744.06 L836.65 744.09 L838.34 744.12 L840.03 744.16 L841.73 744.19 L843.42 744.23 L845.11 744.26 L846.80 744.30 L848.50 744.34 L850.19 744.37 L851.88 744.41 L853.57 744.44 L855.26 744.48 L856.96 744.52 L858.65 744.56 L860.34 744.59 L862.03 744.63 L863.73 744.67 L865.42 744.71 L867.11 744.75 L868.80 744.78 L870.50 744.82 L872.19 744.86 L873.88 744.90 L875.57 744.94 L877.27 744.98 L878.96 745.02 L880.65 745.06 L882.35 745.10 L884.04 745.14 L885.73 745.19 L887.42 745.23 L889.12 745.28 L890.81 745.32 L892.50 745.37"/></defs>
<use href="#c_dc3" fill="none" stroke="#0000ff" stroke-opacity="0.86" stroke-linejoin="round" stroke-linecap="butt" stroke-width="5.6" filter="url(#soft)"/>
</g>
<text x="554.00" y="685.00" font-size="65" font-weight="bold" text-anchor="middle" fill="#000" >dc3</text>
<text x="187.00" y="741.60" font-size="58.5" font-weight="bold" text-anchor="end" fill="#262626" >100</text>
<text x="187.00" y="825.20" font-size="58.5" font-weight="bold" text-anchor="end" fill="#262626" >50</text>
<text x="187.00" y="910.10" font-size="58.5" font-weight="bold" text-anchor="end" fill="#262626" >0</text>
<text x="215.50" y="975.30" font-size="58.5" font-weight="bold" text-anchor="middle" fill="#262626" >400</text>
<text x="384.75" y="975.30" font-size="58.5" font-weight="bold" text-anchor="middle" fill="#262626" >500</text>
<text x="554.00" y="975.30" font-size="58.5" font-weight="bold" text-anchor="middle" fill="#262626" >600</text>
<text x="723.25" y="975.30" font-size="58.5" font-weight="bold" text-anchor="middle" fill="#262626" >700</text>
<text x="892.50" y="975.30" font-size="58.5" font-weight="bold" text-anchor="middle" fill="#262626" >800</text>
<text x="554.00" y="1042.00" font-size="65" font-weight="bold" text-anchor="middle" fill="#262626" >Wavelength (nm)</text>
<text x="553.00" y="1131.50" font-size="65" font-weight="bold" text-anchor="middle" fill="#262626" >(c)</text>
<g transform="translate(72.30 804.00) rotate(-90)" fill="#262626"><text x="0" y="0" font-family="'DejaVu Sans', 'Liberation Sans', sans-serif" font-size="60" font-weight="normal" text-anchor="start" stroke="#262626" stroke-width="0.9" stroke-linejoin="round" transform="translate(-51.6 -1.4) scale(1.1 1)">%</text><text x="0" y="0" font-size="65" font-weight="bold" text-anchor="start" transform="translate(9.2 0) scale(1 1.065)">T</text></g>
<g shape-rendering="auto">
<rect x="1400.20" y="721.85" width="6.60" height="162.05" fill="#dfdfdf" />
<rect x="1569.00" y="721.85" width="6.60" height="162.05" fill="#dfdfdf" />
<rect x="1737.60" y="721.85" width="6.60" height="162.05" fill="#dfdfdf" />
<rect x="1237.90" y="801.20" width="670.30" height="6.00" fill="#dfdfdf" style="mix-blend-mode:multiply"/>
<rect x="1906.20" y="721.85" width="2.00" height="162.05" fill="#e9e9e9" />
<rect x="1237.90" y="721.85" width="670.30" height="2.10" fill="#f5f5f5" />
<rect x="1233.30" y="890.50" width="677.15" height="2.30" fill="#d6d6d6" />
<rect x="1231.10" y="717.80" width="6.80" height="172.70" fill="#262626" />
<rect x="1233.20" y="715.00" width="679.35" height="6.85" fill="#262626" />
<rect x="1233.20" y="715.00" width="679.35" height="1.40" fill="#474747" />
<rect x="1908.20" y="717.10" width="6.65" height="171.50" fill="#262626" />
<rect x="1912.85" y="717.10" width="2.00" height="171.50" fill="#575757" />
<rect x="1233.30" y="883.90" width="677.15" height="6.60" fill="#262626" />
<rect x="1237.90" y="883.90" width="666.30" height="2.20" fill="#707070" />
<rect x="1400.30" y="721.85" width="6.40" height="1.90" fill="#262626" />
<rect x="1400.30" y="881.90" width="6.40" height="4.20" fill="#262626" />
<rect x="1569.10" y="721.85" width="6.40" height="1.90" fill="#262626" />
<rect x="1569.10" y="881.90" width="6.40" height="4.20" fill="#262626" />
<rect x="1737.70" y="721.85" width="6.40" height="4.30" fill="#262626" />
<rect x="1737.70" y="881.90" width="6.40" height="4.20" fill="#262626" />
<rect x="1237.90" y="801.20" width="2.20" height="6.00" fill="#262626" />
<rect x="1906.00" y="801.20" width="2.20" height="6.00" fill="#262626" />
<defs><path id="c_dc4" d="M1234.50 887.20 L1236.19 887.20 L1237.88 887.20 L1239.58 887.20 L1241.27 887.20 L1242.96 887.20 L1244.65 887.19 L1246.35 887.19 L1248.04 887.19 L1249.73 887.19 L1251.42 887.19 L1253.12 887.19 L1254.81 887.18 L1256.50 887.18 L1258.19 887.18 L1259.89 887.18 L1261.58 887.18 L1263.27 887.17 L1264.96 887.17 L1266.66 887.17 L1268.35 887.17 L1270.04 887.16 L1271.73 887.16 L1273.43 887.16 L1275.12 887.16 L1276.81 887.15 L1278.51 887.15 L1280.20 887.15 L1281.89 887.14 L1283.58 887.14 L1285.28 887.13 L1286.97 887.13 L1288.66 887.12 L1290.35 887.11 L1292.05 887.09 L1293.74 887.08 L1295.43 887.06 L1297.12 887.05 L1298.82 887.03 L1300.51 887.01 L1302.20 887.00 L1303.89 886.98 L1305.59 886.97 L1307.28 886.95 L1308.97 886.94 L1310.66 886.92 L1312.36 886.90 L1314.05 886.88 L1315.74 886.85 L1317.43 886.83 L1319.12 886.80 L1320.82 886.75 L1322.51 886.69 L1324.20 886.62 L1325.89 886.53 L1327.59 886.44 L1329.28 886.34 L1330.97 886.22 L1332.66 886.08 L1334.36 885.94 L1336.05 885.78 L1337.74 885.62 L1339.43 885.43 L1341.13 885.23 L1342.82 885.02 L1344.51 884.79 L1346.20 884.55 L1347.90 884.30 L1349.59 884.02 L1351.28 883.70 L1352.97 883.32 L1354.67 882.84 L1356.36 882.22 L1358.05 881.52 L1359.74 880.75 L1361.44 879.94 L1363.13 879.09 L1364.82 878.15 L1366.52 877.13 L1368.21 876.04 L1369.90 874.88 L1371.59 873.63 L1373.29 872.27 L1374.98 870.82 L1376.67 869.26 L1378.36 867.62 L1380.06 865.89 L1381.75 864.04 L1383.44 862.09 L1385.13 860.05 L1386.83 857.92 L1388.52 855.71 L1390.21 853.44 L1391.90 851.10 L1393.60 848.61 L1395.29 845.99 L1396.98 843.25 L1398.67 840.44 L1400.37 837.57 L1402.06 834.67 L1403.75 831.78 L1405.44 828.92 L1407.13 826.11 L1408.83 823.27 L1410.52 820.38 L1412.21 817.48 L1413.90 814.59 L1415.60 811.72 L1417.29 808.92 L1418.98 806.20 L1420.67 803.60 L1422.37 801.05 L1424.06 798.54 L1425.75 796.07 L1427.44 793.65 L1429.14 791.28 L1430.83 788.97 L1432.52 786.73 L1434.21 784.56 L1435.91 782.47 L1437.60 780.45 L1439.29 778.46 L1440.98 776.52 L1442.68 774.66 L1444.37 772.87 L1446.06 771.20 L1447.76 769.65 L1449.45 768.22 L1451.14 766.87 L1452.83 765.59 L1454.53 764.39 L1456.22 763.30 L1457.91 762.32 L1459.60 761.44 L1461.30 760.61 L1462.99 759.82 L1464.68 759.08 L1466.37 758.38 L1468.07 757.73 L1469.76 757.12 L1471.45 756.57 L1473.14 756.06 L1474.84 755.61 L1476.53 755.19 L1478.22 754.82 L1479.91 754.47 L1481.61 754.15 L1483.30 753.84 L1484.99 753.55 L1486.68 753.26 L1488.38 752.96 L1490.07 752.67 L1491.76 752.40 L1493.45 752.14 L1495.14 751.91 L1496.84 751.72 L1498.53 751.56 L1500.22 751.44 L1501.91 751.34 L1503.61 751.24 L1505.30 751.16 L1506.99 751.08 L1508.68 751.01 L1510.38 750.95 L1512.07 750.90 L1513.76 750.85 L1515.45 750.81 L1517.15 750.77 L1518.84 750.74 L1520.53 750.71 L1522.22 750.68 L1523.92 750.65 L1525.61 750.62 L1527.30 750.60 L1528.99 750.58 L1530.69 750.55 L1532.38 750.53 L1534.07 750.51 L1535.76 750.48 L1537.46 750.46 L1539.15 750.43 L1540.84 750.40 L1542.54 750.37 L1544.23 750.34 L1545.92 750.31 L1547.61 750.28 L1549.31 750.25 L1551.00 750.22 L1552.69 750.18 L1554.38 750.15 L1556.08 750.12 L1557.77 750.09 L1559.46 750.06 L1561.15 750.03 L1562.85 750.00 L1564.54 749.97 L1566.23 749.94 L1567.92 749.92 L1569.62 749.89 L1571.31 749.86 L1573.00 749.84 L1574.69 749.81 L1576.38 749.79 L1578.08 749.76 L1579.77 749.74 L1581.46 749.72 L1583.15 749.69 L1584.85 749.67 L1586.54 749.65 L1588.23 749.62 L1589.92 749.60 L1591.62 749.58 L1593.31 749.55 L1595.00 749.53 L1596.69 749.51 L1598.39 749.49 L1600.08 749.46 L1601.77 749.44 L1603.47 749.42 L1605.16 749.40 L1606.85 749.38 L1608.54 749.36 L1610.24 749.34 L1611.93 749.31 L1613.62 749.29 L1615.31 749.27 L1617.00 749.25 L1618.70 749.23 L1620.39 749.21 L1622.08 749.19 L1623.78 749.17 L1625.47 749.15 L1627.16 749.14 L1628.85 749.12 L1630.55 749.10 L1632.24 749.08 L1633.93 749.06 L1635.62 749.04 L1637.32 749.02 L1639.01 749.01 L1640.70 748.99 L1642.39 748.97 L1644.09 748.96 L1645.78 748.94 L1647.47 748.92 L1649.16 748.90 L1650.86 748.89 L1652.55 748.87 L1654.24 748.86 L1655.93 748.84 L1657.62 748.83 L1659.32 748.81 L1661.01 748.79 L1662.70 748.78 L1664.39 748.76 L1666.09 748.74 L1667.78 748.73 L1669.47 748.71 L1671.16 748.69 L1672.86 748.68 L1674.55 748.66 L1676.24 748.64 L1677.93 748.62 L1679.63 748.61 L1681.32 748.59 L1683.01 748.57 L1684.70 748.56 L1686.40 748.54 L1688.09 748.53 L1689.78 748.51 L1691.47 748.49 L1693.17 748.48 L1694.86 748.47 L1696.55 748.45 L1698.25 748.44 L1699.94 748.42 L1701.63 748.41 L1703.32 748.40 L1705.01 748.39 L1706.71 748.38 L1708.40 748.37 L1710.09 748.36 L1711.78 748.35 L1713.48 748.34 L1715.17 748.34 L1716.86 748.33 L1718.56 748.33 L1720.25 748.32 L1721.94 748.32 L1723.63 748.32 L1725.33 748.32 L1727.02 748.32 L1728.71 748.32 L1730.40 748.32 L1732.10 748.33 L1733.79 748.33 L1735.48 748.33 L1737.17 748.34 L1738.87 748.34 L1740.56 748.35 L1742.25 748.36 L1743.94 748.37 L1745.63 748.37 L1747.33 748.38 L1749.02 748.39 L1750.71 748.40 L1752.40 748.41 L1754.10 748.42 L1755.79 748.43 L1757.48 748.44 L1759.18 748.45 L1760.87 748.47 L1762.56 748.48 L1764.25 748.49 L1765.95 748.50 L1767.64 748.51 L1769.33 748.52 L1771.02 748.54 L1772.72 748.55 L1774.41 748.56 L1776.10 748.57 L1777.79 748.58 L1779.49 748.60 L1781.18 748.61 L1782.87 748.63 L1784.56 748.64 L1786.26 748.66 L1787.95 748.67 L1789.64 748.69 L1791.33 748.71 L1793.03 748.73 L1794.72 748.75 L1796.41 748.76 L1798.10 748.78 L1799.80 748.81 L1801.49 748.83 L1803.18 748.85 L1804.87 748.87 L1806.57 748.89 L1808.26 748.91 L1809.95 748.93 L1811.64 748.96 L1813.34 748.98 L1815.03 749.00 L1816.72 749.02 L1818.41 749.05 L1820.11 749.07 L1821.80 749.09 L1823.49 749.12 L1825.18 749.14 L1826.88 749.16 L1828.57 749.19 L1830.26 749.21 L1831.95 749.23 L1833.64 749.26 L1835.34 749.28 L1837.03 749.31 L1838.72 749.34 L1840.41 749.36 L1842.11 749.39 L1843.80 749.42 L1845.49 749.45 L1847.18 749.47 L1848.88 749.50 L1850.57 749.53 L1852.26 749.56 L1853.95 749.59 L1855.65 749.61 L1857.34 749.64 L1859.03 749.67 L1860.72 749.70 L1862.42 749.73 L1864.11 749.76 L1865.80 749.78 L1867.49 749.81 L1869.19 749.84 L1870.88 749.86 L1872.57 749.89 L1874.26 749.92 L1875.96 749.95 L1877.65 749.97 L1879.34 750.00 L1881.03 750.03 L1882.73 750.05 L1884.42 750.08 L1886.11 750.11 L1887.80 750.13 L1889.50 750.16 L1891.19 750.19 L1892.88 750.22 L1894.57 750.24 L1896.27 750.27 L1897.96 750.30 L1899.65 750.32 L1901.35 750.35 L1903.04 750.38 L1904.73 750.40 L1906.42 750.43 L1908.12 750.46 L1909.81 750.49 L1911.50 750.51"/></defs>
<use href="#c_dc4" fill="none" stroke="#0000ff" stroke-opacity="0.86" stroke-linejoin="round" stroke-linecap="butt" stroke-width="5.6" filter="url(#soft)"/>
</g>
<text x="1573.00" y="685.00" font-size="65" font-weight="bold" text-anchor="middle" fill="#000" >dc4</text>
<text x="1206.00" y="741.60" font-size="58.5" font-weight="bold" text-anchor="end" fill="#262626" >100</text>
<text x="1206.00" y="825.20" font-size="58.5" font-weight="bold" text-anchor="end" fill="#262626" >50</text>
<text x="1206.00" y="910.10" font-size="58.5" font-weight="bold" text-anchor="end" fill="#262626" >0</text>
<text x="1234.50" y="975.30" font-size="58.5" font-weight="bold" text-anchor="middle" fill="#262626" >400</text>
<text x="1403.75" y="975.30" font-size="58.5" font-weight="bold" text-anchor="middle" fill="#262626" >500</text>
<text x="1573.00" y="975.30" font-size="58.5" font-weight="bold" text-anchor="middle" fill="#262626" >600</text>
<text x="1740.45" y="975.30" font-size="58.5" font-weight="bold" text-anchor="middle" fill="#262626" >700</text>
<text x="1909.70" y="975.30" font-size="58.5" font-weight="bold" text-anchor="middle" fill="#262626" >800</text>
<text x="1573.00" y="1042.00" font-size="65" font-weight="bold" text-anchor="middle" fill="#262626" >Wavelength (nm)</text>
<text x="1572.00" y="1131.50" font-size="65" font-weight="bold" text-anchor="middle" fill="#262626" >(d)</text>
<g transform="translate(1091.30 804.00) rotate(-90)" fill="#262626"><text x="0" y="0" font-family="'DejaVu Sans', 'Liberation Sans', sans-serif" font-size="60" font-weight="normal" text-anchor="start" stroke="#262626" stroke-width="0.9" stroke-linejoin="round" transform="translate(-51.6 -1.4) scale(1.1 1)">%</text><text x="0" y="0" font-size="65" font-weight="bold" text-anchor="start" transform="translate(9.2 0) scale(1 1.065)">T</text></g>
<rect x="477.55" y="1237.00" width="6.50" height="517.20" fill="#dfdfdf" />
<rect x="709.95" y="1237.00" width="6.50" height="517.20" fill="#dfdfdf" />
<rect x="942.35" y="1237.00" width="6.50" height="517.20" fill="#dfdfdf" />
<rect x="1174.75" y="1237.00" width="6.50" height="517.20" fill="#dfdfdf" />
<rect x="1407.15" y="1237.00" width="6.50" height="517.20" fill="#dfdfdf" />
<rect x="1639.55" y="1237.00" width="6.50" height="517.20" fill="#dfdfdf" />
<rect x="251.40" y="1405.75" width="1619.80" height="6.50" fill="#dfdfdf" style="mix-blend-mode:multiply"/>
<rect x="251.40" y="1695.15" width="1619.80" height="6.50" fill="#dfdfdf" style="mix-blend-mode:multiply"/>
<rect x="251.40" y="1237.00" width="1619.80" height="1.90" fill="#cdcdcd" />
<rect x="247.40" y="1230.20" width="1628.30" height="2.40" fill="#8c8c8c" />
<rect x="1871.20" y="1234.60" width="2.90" height="524.05" fill="#777777" />
<rect x="1877.90" y="1234.60" width="2.00" height="524.05" fill="#ababab" />
<rect x="245.00" y="1231.60" width="6.40" height="526.75" fill="#262626" />
<rect x="247.40" y="1232.60" width="1628.30" height="4.40" fill="#262626" />
<rect x="1874.10" y="1233.60" width="3.80" height="525.55" fill="#262626" />
<rect x="247.60" y="1754.20" width="1629.30" height="6.45" fill="#262626" />
<rect x="477.55" y="1237.00" width="6.50" height="12.90" fill="#262626" />
<rect x="477.55" y="1741.30" width="6.50" height="12.90" fill="#262626" />
<rect x="709.95" y="1237.00" width="6.50" height="12.90" fill="#262626" />
<rect x="709.95" y="1741.30" width="6.50" height="12.90" fill="#262626" />
<rect x="942.35" y="1237.00" width="6.50" height="12.90" fill="#262626" />
<rect x="942.35" y="1741.30" width="6.50" height="12.90" fill="#262626" />
<rect x="1174.75" y="1237.00" width="6.50" height="12.90" fill="#262626" />
<rect x="1174.75" y="1741.30" width="6.50" height="12.90" fill="#262626" />
<rect x="1407.15" y="1237.00" width="6.50" height="12.90" fill="#262626" />
<rect x="1407.15" y="1741.30" width="6.50" height="12.90" fill="#262626" />
<rect x="1639.55" y="1237.00" width="6.50" height="12.90" fill="#262626" />
<rect x="1639.55" y="1741.30" width="6.50" height="12.90" fill="#262626" />
<rect x="1871.20" y="1237.00" width="2.90" height="12.90" fill="#262626" />
<rect x="251.40" y="1405.75" width="13.40" height="6.50" fill="#262626" />
<rect x="1860.80" y="1405.75" width="13.30" height="6.50" fill="#262626" />
<rect x="251.40" y="1695.15" width="13.40" height="6.50" fill="#262626" />
<rect x="1860.80" y="1695.15" width="13.30" height="6.50" fill="#262626" />
<path d="M248.40 1611.73 L254.21 1611.47 L260.02 1611.20 L265.83 1610.92 L271.64 1610.64 L277.45 1610.35 L283.26 1610.05 L289.07 1609.75 L294.88 1609.44 L300.69 1609.13 L306.50 1608.81 L312.31 1608.49 L318.12 1608.16 L323.93 1607.82 L329.74 1607.48 L335.55 1607.14 L341.36 1606.79 L347.17 1606.43 L352.98 1606.07 L358.79 1605.71 L364.60 1605.35 L370.41 1604.97 L376.22 1604.60 L382.03 1604.21 L387.84 1603.82 L393.65 1603.42 L399.46 1603.02 L405.27 1602.61 L411.08 1602.19 L416.89 1601.77 L422.70 1601.34 L428.51 1600.90 L434.32 1600.46 L440.13 1600.01 L445.94 1599.55 L451.75 1599.08 L457.56 1598.61 L463.37 1598.13 L469.18 1597.64 L474.99 1597.14 L480.80 1596.64 L486.61 1596.12 L492.42 1595.59 L498.23 1595.05 L504.04 1594.50 L509.85 1593.93 L515.66 1593.36 L521.47 1592.77 L527.28 1592.18 L533.09 1591.57 L538.90 1590.96 L544.71 1590.33 L550.52 1589.70 L556.33 1589.06 L562.14 1588.42 L567.95 1587.77 L573.76 1587.11 L579.57 1586.45 L585.38 1585.78 L591.19 1585.12 L597.00 1584.44 L602.81 1583.76 L608.62 1583.07 L614.43 1582.38 L620.24 1581.67 L626.05 1580.96 L631.86 1580.23 L637.67 1579.50 L643.48 1578.76 L649.29 1578.01 L655.10 1577.26 L660.91 1576.50 L666.72 1575.73 L672.53 1574.95 L678.34 1574.17 L684.15 1573.38 L689.96 1572.59 L695.77 1571.78 L701.58 1570.98 L707.39 1570.16 L713.20 1569.34 L719.01 1568.52 L724.82 1567.69 L730.63 1566.85 L736.44 1566.01 L742.25 1565.15 L748.06 1564.29 L753.87 1563.42 L759.68 1562.55 L765.49 1561.66 L771.30 1560.77 L777.11 1559.87 L782.92 1558.96 L788.73 1558.04 L794.54 1557.11 L800.35 1556.17 L806.16 1555.23 L811.97 1554.27 L817.78 1553.31 L823.59 1552.33 L829.40 1551.34 L835.21 1550.34 L841.02 1549.33 L846.83 1548.30 L852.64 1547.26 L858.45 1546.21 L864.26 1545.14 L870.07 1544.06 L875.88 1542.97 L881.69 1541.87 L887.50 1540.76 L893.31 1539.64 L899.12 1538.52 L904.93 1537.38 L910.74 1536.24 L916.55 1535.09 L922.36 1533.94 L928.17 1532.78 L933.98 1531.62 L939.79 1530.45 L945.60 1529.28 L951.41 1528.10 L957.22 1526.92 L963.03 1525.73 L968.84 1524.53 L974.65 1523.33 L980.46 1522.12 L986.27 1520.90 L992.08 1519.67 L997.89 1518.43 L1003.70 1517.19 L1009.51 1515.94 L1015.32 1514.68 L1021.13 1513.41 L1026.94 1512.14 L1032.75 1510.85 L1038.56 1509.56 L1044.37 1508.26 L1050.18 1506.95 L1055.99 1505.64 L1061.80 1504.31 L1067.61 1502.97 L1073.42 1501.63 L1079.23 1500.27 L1085.04 1498.90 L1090.85 1497.52 L1096.66 1496.13 L1102.47 1494.74 L1108.28 1493.33 L1114.09 1491.91 L1119.90 1490.49 L1125.71 1489.06 L1131.52 1487.62 L1137.33 1486.17 L1143.14 1484.71 L1148.95 1483.25 L1154.76 1481.78 L1160.57 1480.31 L1166.38 1478.83 L1172.19 1477.35 L1178.00 1475.86 L1183.81 1474.36 L1189.62 1472.85 L1195.43 1471.33 L1201.24 1469.80 L1207.05 1468.26 L1212.86 1466.71 L1218.67 1465.15 L1224.48 1463.59 L1230.29 1462.02 L1236.10 1460.44 L1241.91 1458.86 L1247.72 1457.27 L1253.53 1455.68 L1259.34 1454.09 L1265.15 1452.49 L1270.96 1450.89 L1276.77 1449.30 L1282.58 1447.70 L1288.39 1446.10 L1294.20 1444.50 L1300.01 1442.90 L1305.82 1441.30 L1311.63 1439.70 L1317.44 1438.09 L1323.25 1436.48 L1329.06 1434.87 L1334.87 1433.25 L1340.68 1431.63 L1346.49 1430.01 L1352.30 1428.39 L1358.11 1426.76 L1363.92 1425.13 L1369.73 1423.50 L1375.54 1421.86 L1381.35 1420.22 L1387.16 1418.58 L1392.97 1416.93 L1398.78 1415.29 L1404.59 1413.64 L1410.40 1411.98 L1416.21 1410.32 L1422.02 1408.66 L1427.83 1406.98 L1433.64 1405.30 L1439.45 1403.61 L1445.26 1401.91 L1451.07 1400.21 L1456.88 1398.51 L1462.69 1396.81 L1468.50 1395.11 L1474.31 1393.40 L1480.12 1391.70 L1485.93 1390.01 L1491.74 1388.31 L1497.55 1386.63 L1503.36 1384.95 L1509.17 1383.27 L1514.98 1381.61 L1520.79 1379.95 L1526.60 1378.31 L1532.41 1376.67 L1538.22 1375.03 L1544.03 1373.40 L1549.84 1371.77 L1555.65 1370.15 L1561.46 1368.52 L1567.27 1366.91 L1573.08 1365.29 L1578.89 1363.68 L1584.70 1362.08 L1590.51 1360.48 L1596.32 1358.89 L1602.13 1357.30 L1607.94 1355.72 L1613.75 1354.14 L1619.56 1352.57 L1625.37 1351.01 L1631.18 1349.46 L1636.99 1347.91 L1642.80 1346.37 L1648.61 1344.83 L1654.42 1343.30 L1660.23 1341.77 L1666.04 1340.24 L1671.85 1338.72 L1677.66 1337.20 L1683.47 1335.69 L1689.28 1334.18 L1695.09 1332.68 L1700.90 1331.19 L1706.71 1329.70 L1712.52 1328.23 L1718.33 1326.76 L1724.14 1325.30 L1729.95 1323.85 L1735.76 1322.40 L1741.57 1320.97 L1747.38 1319.56 L1753.19 1318.15 L1759.00 1316.75 L1764.81 1315.37 L1770.62 1313.99 L1776.43 1312.62 L1782.24 1311.26 L1788.05 1309.91 L1793.86 1308.57 L1799.67 1307.23 L1805.48 1305.90 L1811.29 1304.58 L1817.10 1303.27 L1822.91 1301.96 L1828.72 1300.67 L1834.53 1299.38 L1840.34 1298.10 L1846.15 1296.84 L1851.96 1295.58 L1857.77 1294.32 L1863.58 1293.08 L1869.39 1291.85 L1875.20 1290.62" fill="none" stroke="#0000ff" stroke-width="6.0" stroke-linejoin="round"/>
<path d="M248.40 1682.57 L254.21 1682.41 L260.02 1682.25 L265.83 1682.08 L271.64 1681.92 L277.45 1681.76 L283.26 1681.61 L289.07 1681.45 L294.88 1681.29 L300.69 1681.14 L306.50 1680.98 L312.31 1680.83 L318.12 1680.68 L323.93 1680.52 L329.74 1680.37 L335.55 1680.21 L341.36 1680.05 L347.17 1679.90 L352.98 1679.74 L358.79 1679.58 L364.60 1679.42 L370.41 1679.26 L376.22 1679.09 L382.03 1678.93 L387.84 1678.76 L393.65 1678.59 L399.46 1678.41 L405.27 1678.24 L411.08 1678.06 L416.89 1677.88 L422.70 1677.69 L428.51 1677.50 L434.32 1677.31 L440.13 1677.11 L445.94 1676.91 L451.75 1676.70 L457.56 1676.49 L463.37 1676.28 L469.18 1676.06 L474.99 1675.84 L480.80 1675.61 L486.61 1675.37 L492.42 1675.13 L498.23 1674.88 L504.04 1674.62 L509.85 1674.35 L515.66 1674.08 L521.47 1673.80 L527.28 1673.52 L533.09 1673.22 L538.90 1672.92 L544.71 1672.62 L550.52 1672.31 L556.33 1671.99 L562.14 1671.67 L567.95 1671.34 L573.76 1671.01 L579.57 1670.67 L585.38 1670.32 L591.19 1669.97 L597.00 1669.62 L602.81 1669.26 L608.62 1668.89 L614.43 1668.52 L620.24 1668.15 L626.05 1667.77 L631.86 1667.39 L637.67 1667.00 L643.48 1666.61 L649.29 1666.22 L655.10 1665.82 L660.91 1665.42 L666.72 1665.01 L672.53 1664.60 L678.34 1664.19 L684.15 1663.78 L689.96 1663.36 L695.77 1662.94 L701.58 1662.52 L707.39 1662.10 L713.20 1661.67 L719.01 1661.24 L724.82 1660.79 L730.63 1660.34 L736.44 1659.87 L742.25 1659.39 L748.06 1658.91 L753.87 1658.41 L759.68 1657.91 L765.49 1657.39 L771.30 1656.87 L777.11 1656.34 L782.92 1655.80 L788.73 1655.25 L794.54 1654.69 L800.35 1654.13 L806.16 1653.56 L811.97 1652.98 L817.78 1652.40 L823.59 1651.81 L829.40 1651.22 L835.21 1650.62 L841.02 1650.00 L846.83 1649.38 L852.64 1648.75 L858.45 1648.11 L864.26 1647.46 L870.07 1646.79 L875.88 1646.12 L881.69 1645.44 L887.50 1644.75 L893.31 1644.05 L899.12 1643.33 L904.93 1642.61 L910.74 1641.88 L916.55 1641.14 L922.36 1640.39 L928.17 1639.63 L933.98 1638.86 L939.79 1638.07 L945.60 1637.28 L951.41 1636.48 L957.22 1635.66 L963.03 1634.82 L968.84 1633.96 L974.65 1633.10 L980.46 1632.21 L986.27 1631.32 L992.08 1630.41 L997.89 1629.49 L1003.70 1628.55 L1009.51 1627.61 L1015.32 1626.65 L1021.13 1625.69 L1026.94 1624.71 L1032.75 1623.73 L1038.56 1622.74 L1044.37 1621.74 L1050.18 1620.73 L1055.99 1619.72 L1061.80 1618.70 L1067.61 1617.68 L1073.42 1616.64 L1079.23 1615.60 L1085.04 1614.55 L1090.85 1613.50 L1096.66 1612.43 L1102.47 1611.35 L1108.28 1610.25 L1114.09 1609.15 L1119.90 1608.03 L1125.71 1606.91 L1131.52 1605.76 L1137.33 1604.61 L1143.14 1603.43 L1148.95 1602.25 L1154.76 1601.04 L1160.57 1599.82 L1166.38 1598.58 L1172.19 1597.33 L1178.00 1596.06 L1183.81 1594.76 L1189.62 1593.43 L1195.43 1592.08 L1201.24 1590.71 L1207.05 1589.31 L1212.86 1587.89 L1218.67 1586.45 L1224.48 1584.99 L1230.29 1583.51 L1236.10 1582.01 L1241.91 1580.50 L1247.72 1578.98 L1253.53 1577.44 L1259.34 1575.89 L1265.15 1574.33 L1270.96 1572.77 L1276.77 1571.19 L1282.58 1569.61 L1288.39 1568.03 L1294.20 1566.44 L1300.01 1564.85 L1305.82 1563.24 L1311.63 1561.62 L1317.44 1559.99 L1323.25 1558.34 L1329.06 1556.68 L1334.87 1555.01 L1340.68 1553.33 L1346.49 1551.63 L1352.30 1549.93 L1358.11 1548.21 L1363.92 1546.47 L1369.73 1544.73 L1375.54 1542.97 L1381.35 1541.21 L1387.16 1539.42 L1392.97 1537.63 L1398.78 1535.83 L1404.59 1534.01 L1410.40 1532.18 L1416.21 1530.34 L1422.02 1528.47 L1427.83 1526.58 L1433.64 1524.68 L1439.45 1522.76 L1445.26 1520.82 L1451.07 1518.87 L1456.88 1516.90 L1462.69 1514.92 L1468.50 1512.93 L1474.31 1510.93 L1480.12 1508.92 L1485.93 1506.91 L1491.74 1504.88 L1497.55 1502.86 L1503.36 1500.83 L1509.17 1498.80 L1514.98 1496.76 L1520.79 1494.73 L1526.60 1492.70 L1532.41 1490.66 L1538.22 1488.62 L1544.03 1486.56 L1549.84 1484.50 L1555.65 1482.43 L1561.46 1480.35 L1567.27 1478.26 L1573.08 1476.17 L1578.89 1474.08 L1584.70 1471.98 L1590.51 1469.87 L1596.32 1467.77 L1602.13 1465.66 L1607.94 1463.55 L1613.75 1461.44 L1619.56 1459.33 L1625.37 1457.21 L1631.18 1455.10 L1636.99 1452.99 L1642.80 1450.89 L1648.61 1448.78 L1654.42 1446.66 L1660.23 1444.54 L1666.04 1442.41 L1671.85 1440.28 L1677.66 1438.14 L1683.47 1436.00 L1689.28 1433.86 L1695.09 1431.72 L1700.90 1429.58 L1706.71 1427.44 L1712.52 1425.31 L1718.33 1423.18 L1724.14 1421.06 L1729.95 1418.94 L1735.76 1416.83 L1741.57 1414.73 L1747.38 1412.64 L1753.19 1410.57 L1759.00 1408.50 L1764.81 1406.44 L1770.62 1404.39 L1776.43 1402.35 L1782.24 1400.31 L1788.05 1398.27 L1793.86 1396.24 L1799.67 1394.22 L1805.48 1392.20 L1811.29 1390.19 L1817.10 1388.18 L1822.91 1386.18 L1828.72 1384.18 L1834.53 1382.20 L1840.34 1380.21 L1846.15 1378.23 L1851.96 1376.26 L1857.77 1374.30 L1863.58 1372.34 L1869.39 1370.38 L1875.20 1368.43" fill="none" stroke="#0072bd" stroke-width="6.0" stroke-linejoin="round"/>
<path d="M248.40 1696.22 L254.21 1696.19 L260.02 1696.16 L265.83 1696.13 L271.64 1696.10 L277.45 1696.07 L283.26 1696.05 L289.07 1696.02 L294.88 1695.99 L300.69 1695.96 L306.50 1695.93 L312.31 1695.91 L318.12 1695.88 L323.93 1695.85 L329.74 1695.82 L335.55 1695.80 L341.36 1695.77 L347.17 1695.74 L352.98 1695.71 L358.79 1695.68 L364.60 1695.66 L370.41 1695.63 L376.22 1695.60 L382.03 1695.57 L387.84 1695.54 L393.65 1695.50 L399.46 1695.47 L405.27 1695.44 L411.08 1695.41 L416.89 1695.37 L422.70 1695.34 L428.51 1695.30 L434.32 1695.27 L440.13 1695.23 L445.94 1695.19 L451.75 1695.15 L457.56 1695.11 L463.37 1695.07 L469.18 1695.03 L474.99 1694.99 L480.80 1694.94 L486.61 1694.90 L492.42 1694.85 L498.23 1694.80 L504.04 1694.75 L509.85 1694.70 L515.66 1694.65 L521.47 1694.60 L527.28 1694.54 L533.09 1694.49 L538.90 1694.43 L544.71 1694.37 L550.52 1694.31 L556.33 1694.25 L562.14 1694.18 L567.95 1694.12 L573.76 1694.05 L579.57 1693.98 L585.38 1693.91 L591.19 1693.84 L597.00 1693.77 L602.81 1693.69 L608.62 1693.61 L614.43 1693.53 L620.24 1693.45 L626.05 1693.37 L631.86 1693.28 L637.67 1693.20 L643.48 1693.11 L649.29 1693.02 L655.10 1692.92 L660.91 1692.83 L666.72 1692.73 L672.53 1692.63 L678.34 1692.53 L684.15 1692.42 L689.96 1692.32 L695.77 1692.21 L701.58 1692.10 L707.39 1691.98 L713.20 1691.87 L719.01 1691.74 L724.82 1691.60 L730.63 1691.46 L736.44 1691.29 L742.25 1691.12 L748.06 1690.94 L753.87 1690.75 L759.68 1690.56 L765.49 1690.35 L771.30 1690.14 L777.11 1689.92 L782.92 1689.69 L788.73 1689.47 L794.54 1689.23 L800.35 1689.00 L806.16 1688.76 L811.97 1688.52 L817.78 1688.28 L823.59 1688.04 L829.40 1687.80 L835.21 1687.56 L841.02 1687.32 L846.83 1687.07 L852.64 1686.81 L858.45 1686.56 L864.26 1686.29 L870.07 1686.03 L875.88 1685.75 L881.69 1685.48 L887.50 1685.19 L893.31 1684.90 L899.12 1684.61 L904.93 1684.31 L910.74 1684.00 L916.55 1683.68 L922.36 1683.36 L928.17 1683.03 L933.98 1682.69 L939.79 1682.35 L945.60 1681.99 L951.41 1681.63 L957.22 1681.25 L963.03 1680.86 L968.84 1680.46 L974.65 1680.05 L980.46 1679.63 L986.27 1679.19 L992.08 1678.75 L997.89 1678.29 L1003.70 1677.83 L1009.51 1677.35 L1015.32 1676.87 L1021.13 1676.37 L1026.94 1675.87 L1032.75 1675.36 L1038.56 1674.84 L1044.37 1674.32 L1050.18 1673.79 L1055.99 1673.25 L1061.80 1672.70 L1067.61 1672.15 L1073.42 1671.58 L1079.23 1671.01 L1085.04 1670.42 L1090.85 1669.81 L1096.66 1669.20 L1102.47 1668.57 L1108.28 1667.94 L1114.09 1667.29 L1119.90 1666.62 L1125.71 1665.95 L1131.52 1665.26 L1137.33 1664.57 L1143.14 1663.86 L1148.95 1663.13 L1154.76 1662.40 L1160.57 1661.66 L1166.38 1660.90 L1172.19 1660.13 L1178.00 1659.35 L1183.81 1658.55 L1189.62 1657.73 L1195.43 1656.90 L1201.24 1656.04 L1207.05 1655.17 L1212.86 1654.27 L1218.67 1653.37 L1224.48 1652.44 L1230.29 1651.50 L1236.10 1650.54 L1241.91 1649.56 L1247.72 1648.57 L1253.53 1647.57 L1259.34 1646.55 L1265.15 1645.52 L1270.96 1644.48 L1276.77 1643.42 L1282.58 1642.35 L1288.39 1641.28 L1294.20 1640.19 L1300.01 1639.08 L1305.82 1637.96 L1311.63 1636.82 L1317.44 1635.66 L1323.25 1634.48 L1329.06 1633.28 L1334.87 1632.06 L1340.68 1630.83 L1346.49 1629.58 L1352.30 1628.31 L1358.11 1627.02 L1363.92 1625.71 L1369.73 1624.39 L1375.54 1623.05 L1381.35 1621.69 L1387.16 1620.31 L1392.97 1618.92 L1398.78 1617.51 L1404.59 1616.08 L1410.40 1614.64 L1416.21 1613.17 L1422.02 1611.67 L1427.83 1610.15 L1433.64 1608.60 L1439.45 1607.03 L1445.26 1605.43 L1451.07 1603.80 L1456.88 1602.16 L1462.69 1600.49 L1468.50 1598.80 L1474.31 1597.09 L1480.12 1595.36 L1485.93 1593.62 L1491.74 1591.85 L1497.55 1590.07 L1503.36 1588.28 L1509.17 1586.47 L1514.98 1584.64 L1520.79 1582.81 L1526.60 1580.96 L1532.41 1579.09 L1538.22 1577.19 L1544.03 1575.27 L1549.84 1573.32 L1555.65 1571.35 L1561.46 1569.36 L1567.27 1567.34 L1573.08 1565.30 L1578.89 1563.24 L1584.70 1561.17 L1590.51 1559.08 L1596.32 1556.97 L1602.13 1554.85 L1607.94 1552.72 L1613.75 1550.58 L1619.56 1548.42 L1625.37 1546.26 L1631.18 1544.09 L1636.99 1541.91 L1642.80 1539.73 L1648.61 1537.53 L1654.42 1535.32 L1660.23 1533.08 L1666.04 1530.82 L1671.85 1528.55 L1677.66 1526.26 L1683.47 1523.95 L1689.28 1521.63 L1695.09 1519.30 L1700.90 1516.96 L1706.71 1514.61 L1712.52 1512.25 L1718.33 1509.88 L1724.14 1507.51 L1729.95 1505.14 L1735.76 1502.77 L1741.57 1500.39 L1747.38 1498.02 L1753.19 1495.65 L1759.00 1493.28 L1764.81 1490.91 L1770.62 1488.54 L1776.43 1486.16 L1782.24 1483.78 L1788.05 1481.39 L1793.86 1479.00 L1799.67 1476.61 L1805.48 1474.21 L1811.29 1471.81 L1817.10 1469.40 L1822.91 1466.99 L1828.72 1464.57 L1834.53 1462.15 L1840.34 1459.72 L1846.15 1457.29 L1851.96 1454.86 L1857.77 1452.42 L1863.58 1449.98 L1869.39 1447.53 L1875.20 1445.08" fill="none" stroke="#d95319" stroke-width="6.0" stroke-linejoin="round"/>
<path d="M248.40 1698.60 L254.21 1698.60 L260.02 1698.59 L265.83 1698.58 L271.64 1698.58 L277.45 1698.57 L283.26 1698.56 L289.07 1698.56 L294.88 1698.55 L300.69 1698.54 L306.50 1698.53 L312.31 1698.52 L318.12 1698.51 L323.93 1698.50 L329.74 1698.49 L335.55 1698.48 L341.36 1698.46 L347.17 1698.45 L352.98 1698.44 L358.79 1698.43 L364.60 1698.42 L370.41 1698.40 L376.22 1698.39 L382.03 1698.38 L387.84 1698.36 L393.65 1698.35 L399.46 1698.34 L405.27 1698.32 L411.08 1698.31 L416.89 1698.29 L422.70 1698.28 L428.51 1698.26 L434.32 1698.25 L440.13 1698.24 L445.94 1698.22 L451.75 1698.21 L457.56 1698.19 L463.37 1698.18 L469.18 1698.16 L474.99 1698.15 L480.80 1698.14 L486.61 1698.12 L492.42 1698.11 L498.23 1698.10 L504.04 1698.08 L509.85 1698.07 L515.66 1698.06 L521.47 1698.04 L527.28 1698.03 L533.09 1698.02 L538.90 1698.00 L544.71 1697.99 L550.52 1697.98 L556.33 1697.96 L562.14 1697.95 L567.95 1697.94 L573.76 1697.92 L579.57 1697.91 L585.38 1697.89 L591.19 1697.88 L597.00 1697.86 L602.81 1697.85 L608.62 1697.83 L614.43 1697.81 L620.24 1697.80 L626.05 1697.78 L631.86 1697.76 L637.67 1697.74 L643.48 1697.72 L649.29 1697.71 L655.10 1697.68 L660.91 1697.66 L666.72 1697.64 L672.53 1697.62 L678.34 1697.60 L684.15 1697.57 L689.96 1697.55 L695.77 1697.52 L701.58 1697.50 L707.39 1697.47 L713.20 1697.44 L719.01 1697.41 L724.82 1697.37 L730.63 1697.33 L736.44 1697.29 L742.25 1697.24 L748.06 1697.19 L753.87 1697.14 L759.68 1697.08 L765.49 1697.02 L771.30 1696.96 L777.11 1696.89 L782.92 1696.82 L788.73 1696.75 L794.54 1696.68 L800.35 1696.61 L806.16 1696.53 L811.97 1696.46 L817.78 1696.38 L823.59 1696.30 L829.40 1696.22 L835.21 1696.14 L841.02 1696.05 L846.83 1695.96 L852.64 1695.87 L858.45 1695.77 L864.26 1695.67 L870.07 1695.56 L875.88 1695.46 L881.69 1695.35 L887.50 1695.23 L893.31 1695.11 L899.12 1694.99 L904.93 1694.87 L910.74 1694.75 L916.55 1694.62 L922.36 1694.49 L928.17 1694.36 L933.98 1694.23 L939.79 1694.09 L945.60 1693.96 L951.41 1693.82 L957.22 1693.68 L963.03 1693.53 L968.84 1693.38 L974.65 1693.23 L980.46 1693.07 L986.27 1692.91 L992.08 1692.75 L997.89 1692.58 L1003.70 1692.41 L1009.51 1692.24 L1015.32 1692.06 L1021.13 1691.88 L1026.94 1691.70 L1032.75 1691.51 L1038.56 1691.32 L1044.37 1691.13 L1050.18 1690.93 L1055.99 1690.73 L1061.80 1690.53 L1067.61 1690.33 L1073.42 1690.12 L1079.23 1689.92 L1085.04 1689.71 L1090.85 1689.50 L1096.66 1689.28 L1102.47 1689.06 L1108.28 1688.84 L1114.09 1688.61 L1119.90 1688.37 L1125.71 1688.13 L1131.52 1687.88 L1137.33 1687.62 L1143.14 1687.35 L1148.95 1687.07 L1154.76 1686.77 L1160.57 1686.47 L1166.38 1686.15 L1172.19 1685.82 L1178.00 1685.48 L1183.81 1685.11 L1189.62 1684.71 L1195.43 1684.28 L1201.24 1683.81 L1207.05 1683.33 L1212.86 1682.81 L1218.67 1682.27 L1224.48 1681.71 L1230.29 1681.13 L1236.10 1680.53 L1241.91 1679.92 L1247.72 1679.28 L1253.53 1678.64 L1259.34 1677.98 L1265.15 1677.31 L1270.96 1676.63 L1276.77 1675.95 L1282.58 1675.26 L1288.39 1674.56 L1294.20 1673.86 L1300.01 1673.16 L1305.82 1672.43 L1311.63 1671.68 L1317.44 1670.92 L1323.25 1670.14 L1329.06 1669.33 L1334.87 1668.51 L1340.68 1667.68 L1346.49 1666.82 L1352.30 1665.95 L1358.11 1665.07 L1363.92 1664.17 L1369.73 1663.25 L1375.54 1662.32 L1381.35 1661.37 L1387.16 1660.41 L1392.97 1659.44 L1398.78 1658.45 L1404.59 1657.45 L1410.40 1656.44 L1416.21 1655.42 L1422.02 1654.37 L1427.83 1653.30 L1433.64 1652.21 L1439.45 1651.09 L1445.26 1649.96 L1451.07 1648.80 L1456.88 1647.63 L1462.69 1646.43 L1468.50 1645.22 L1474.31 1643.99 L1480.12 1642.73 L1485.93 1641.46 L1491.74 1640.17 L1497.55 1638.86 L1503.36 1637.54 L1509.17 1636.19 L1514.98 1634.83 L1520.79 1633.45 L1526.60 1632.06 L1532.41 1630.64 L1538.22 1629.19 L1544.03 1627.70 L1549.84 1626.19 L1555.65 1624.66 L1561.46 1623.09 L1567.27 1621.50 L1573.08 1619.89 L1578.89 1618.25 L1584.70 1616.59 L1590.51 1614.90 L1596.32 1613.20 L1602.13 1611.48 L1607.94 1609.74 L1613.75 1607.98 L1619.56 1606.20 L1625.37 1604.41 L1631.18 1602.61 L1636.99 1600.79 L1642.80 1598.96 L1648.61 1597.11 L1654.42 1595.22 L1660.23 1593.30 L1666.04 1591.35 L1671.85 1589.38 L1677.66 1587.38 L1683.47 1585.35 L1689.28 1583.30 L1695.09 1581.24 L1700.90 1579.15 L1706.71 1577.05 L1712.52 1574.93 L1718.33 1572.81 L1724.14 1570.67 L1729.95 1568.52 L1735.76 1566.37 L1741.57 1564.21 L1747.38 1562.05 L1753.19 1559.89 L1759.00 1557.73 L1764.81 1555.57 L1770.62 1553.39 L1776.43 1551.21 L1782.24 1549.01 L1788.05 1546.80 L1793.86 1544.58 L1799.67 1542.36 L1805.48 1540.12 L1811.29 1537.87 L1817.10 1535.61 L1822.91 1533.33 L1828.72 1531.05 L1834.53 1528.76 L1840.34 1526.46 L1846.15 1524.15 L1851.96 1521.83 L1857.77 1519.49 L1863.58 1517.15 L1869.39 1514.80 L1875.20 1512.44" fill="none" stroke="#edb120" stroke-width="6.0" stroke-linejoin="round"/>
<rect x="274.4" y="1261.1" width="206.8" height="313.8" fill="#fff" stroke="#5a5a5a" stroke-width="2.2"/>
<line x1="287.9" y1="1305.40" x2="354.6" y2="1305.40" stroke="#0000ff" stroke-width="6.6"/>
<text x="366.80" y="1328.40" font-size="62" font-weight="normal" text-anchor="start" fill="#000" >dc1</text>
<line x1="287.9" y1="1380.45" x2="354.6" y2="1380.45" stroke="#0072bd" stroke-width="6.6"/>
<text x="366.80" y="1403.45" font-size="62" font-weight="normal" text-anchor="start" fill="#000" >dc2</text>
<line x1="287.9" y1="1455.50" x2="354.6" y2="1455.50" stroke="#d95319" stroke-width="6.6"/>
<text x="366.80" y="1478.50" font-size="62" font-weight="normal" text-anchor="start" fill="#000" >dc3</text>
<line x1="287.9" y1="1530.55" x2="354.6" y2="1530.55" stroke="#edb120" stroke-width="6.6"/>
<text x="366.80" y="1553.55" font-size="62" font-weight="normal" text-anchor="start" fill="#000" >dc4</text>
<text x="219.60" y="1430.20" font-size="58.5" font-weight="bold" text-anchor="end" fill="#262626" >50</text>
<text x="219.60" y="1721.20" font-size="58.5" font-weight="bold" text-anchor="end" fill="#262626" >0</text>
<text x="248.40" y="1846.40" font-size="58.5" font-weight="bold" text-anchor="middle" fill="#262626" >430</text>
<text x="480.80" y="1846.40" font-size="58.5" font-weight="bold" text-anchor="middle" fill="#262626" >440</text>
<text x="713.20" y="1846.40" font-size="58.5" font-weight="bold" text-anchor="middle" fill="#262626" >450</text>
<text x="945.60" y="1846.40" font-size="58.5" font-weight="bold" text-anchor="middle" fill="#262626" >460</text>
<text x="1178.00" y="1846.40" font-size="58.5" font-weight="bold" text-anchor="middle" fill="#262626" >470</text>
<text x="1410.40" y="1846.40" font-size="58.5" font-weight="bold" text-anchor="middle" fill="#262626" >480</text>
<text x="1642.80" y="1846.40" font-size="58.5" font-weight="bold" text-anchor="middle" fill="#262626" >490</text>
<text x="1875.20" y="1846.40" font-size="58.5" font-weight="bold" text-anchor="middle" fill="#262626" >500</text>
<text x="1062.50" y="1911.50" font-size="65" font-weight="bold" text-anchor="middle" fill="#262626" >Wavelength (nm)</text>
<text x="1061.40" y="2001.20" font-size="65" font-weight="bold" text-anchor="middle" fill="#262626" >(e)</text>
<g transform="translate(137.60 1496.00) rotate(-90)" fill="#262626"><text x="0" y="0" font-family="'DejaVu Sans', 'Liberation Sans', sans-serif" font-size="60" font-weight="normal" text-anchor="start" stroke="#262626" stroke-width="0.9" stroke-linejoin="round" transform="translate(-51.6 -1.4) scale(1.1 1)">%</text><text x="0" y="0" font-size="65" font-weight="bold" text-anchor="start" transform="translate(9.2 0) scale(1 1.065)">T</text></g>
</svg>
</body>
</html>
